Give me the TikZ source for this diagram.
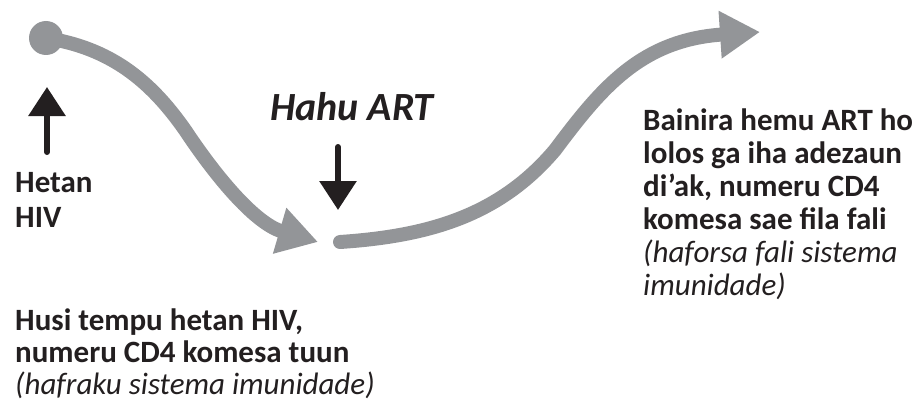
\documentclass[tikz,border=0pt]{standalone}
\usepackage{fontspec}
\setmainfont{Carlito}
\usetikzlibrary{arrows.meta, positioning}
\definecolor{flowgray}{RGB}{147,149,152}
\definecolor{inkblack}{RGB}{35,31,32}
\tikzset{
  flow/.style={flowgray, line width=14pt, line cap=round, -{Triangle[length=40pt,width=45pt]}},
  pointer/.style={inkblack, line width=6pt, line cap=round, -{Triangle[length=29pt,width=36pt]}},
  caption/.style={inkblack, align=left, inner sep=0pt, anchor=base west, font=\fontsize{31}{33}\selectfont\bfseries},
}
\newcommand{\aside}[1]{{\mdseries\itshape #1}}
\begin{document}
\begin{tikzpicture}[x=1pt, y=-1pt]
      \useasboundingbox (0,0) rectangle (924,404);
      \coordinate (start) at (46,38);
      \coordinate (dip) at (318,242);
      \coordinate (restart) at (340,242);
      \coordinate (rise) at (760,32);

      \fill[flowgray] (start) circle (17pt);
      \draw[flow] (start) .. controls (110,48) and (150,80) .. (185,130) .. controls (225,190) and (260,225) .. (dip);
      \draw[flow] (restart) .. controls (430,236) and (500,215) .. (555,150) .. controls (600,90) and (640,40) .. (rise);

      % multi-line nodes sit on the baseline of their last line
      \node[caption, font=\fontsize{31}{35}\selectfont\bfseries] (hetan) at (15,227) {Hetan\\HIV};
      \coordinate (hetantop) at (47,152);
      \draw[pointer] (hetantop) -- ++(0,-65);

      \node[caption, font=\fontsize{40}{42}\selectfont\bfseries\itshape] (hahu) at (270,120) {Hahu ART};
      \coordinate (hahutop) at (338,147);
      \draw[pointer] (hahutop) -- ++(0,63);

      \node[caption, font=\fontsize{31}{32}\selectfont\bfseries] (drop) at (15,394) {Husi tempu hetan HIV,\\numeru CD4 komesa tuun\\\aside{(hafraku sistema imunidade)}};
      \node[caption] (recover) at (643,295) {Bainira hemu ART ho\\lolos ga iha adezaun\\di’ak, numeru CD4\\komesa sae fila fali\\\aside{(haforsa fali sistema}\\\aside{imunidade)}};
\end{tikzpicture}
\end{document}
